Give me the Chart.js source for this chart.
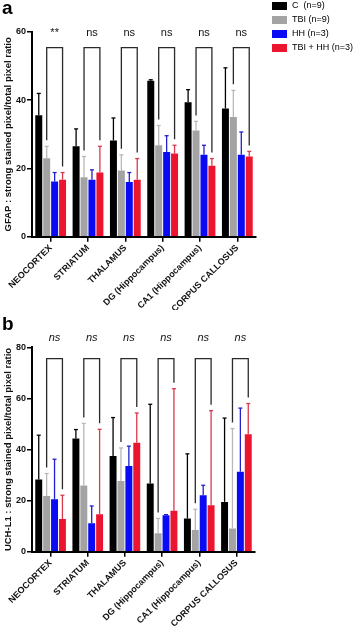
<!DOCTYPE html>
<html><head><meta charset="utf-8">
<script src="https://cdn.jsdelivr.net/npm/chart.js@4/dist/chart.umd.min.js"></script>
<style>
html,body{margin:0;padding:0;background:#fff;}
#wrap{position:relative;width:358px;height:627px;overflow:hidden;}
canvas{position:absolute;left:0;}
</style></head>
<body><div id="wrap">
<canvas id="ca" width="358" height="310" style="top:0"></canvas>
<canvas id="cb" width="358" height="317" style="top:310px"></canvas>
</div>
<script>
// ---- data ----
const categories = ['NEOCORTEX','STRIATUM','THALAMUS','DG (Hippocampus)','CA1 (Hippocampus)','CORPUS CALLOSUS'];
const seriesNames = ['C  (n=9)','TBI (n=9)','HH (n=3)','TBI + HH (n=3)'];

// Panel a: GFAP
const gfapC      = [35.6, 26.5, 28.2, 45.7, 39.4, 37.6];
const gfapCErr   = [6.4, 5.1, 6.6, 0.3, 3.7, 11.9];
const gfapTBI    = [23.0, 17.4, 19.4, 26.8, 31.1, 35.1];
const gfapTBIErr = [3.5, 6.1, 4.6, 5.8, 2.7, 7.8];
const gfapHH     = [16.2, 16.7, 16.0, 24.8, 24.0, 24.0];
const gfapHHErr  = [2.6, 2.9, 2.8, 4.8, 2.8, 6.7];
const gfapTH     = [16.7, 18.8, 16.7, 24.4, 20.8, 23.5];
const gfapTHErr  = [2.1, 7.7, 6.2, 2.4, 2.1, 1.5];
const gfapSig    = ['**','ns','ns','ns','ns','ns'];
const gfapTicks  = [0, 20, 40, 60];

// Panel b: UCH-L1
const uchC      = [28.3, 44.3, 37.5, 26.7, 13.0, 19.5];
const uchCErr   = [17.3, 3.5, 15.0, 31.0, 25.3, 32.8];
const uchTBI    = [21.8, 25.9, 27.7, 7.2, 8.5, 9.1];
const uchTBIErr = [8.8, 24.3, 12.9, 5.8, 8.1, 39.1];
const uchHH     = [20.5, 11.1, 33.5, 14.3, 22.1, 31.3];
const uchHHErr  = [15.7, 6.8, 7.8, 0.2, 3.9, 24.9];
const uchTH     = [12.8, 14.7, 42.6, 16.0, 18.2, 46.0];
const uchTHErr  = [9.3, 33.2, 11.7, 47.8, 37.0, 12.0];
const uchSig    = ['ns','ns','ns','ns','ns','ns'];
const uchTicks  = [0, 20, 40, 60, 80];

// ---- styles ----
const barColors = ['#000000','#a3a3a3','#0a0af5','#ec1530'];
const errColors = ['#000000','#b8b8b8','#2020d0','#d83a4c'];
const FONT = "'Liberation Sans', Arial, Helvetica, sans-serif";

function makeChart(id, cfg) {
  const ds = cfg.values.map((v, i) => ({
    label: seriesNames[i], data: v, backgroundColor: barColors[i], borderWidth: 0,
    categoryPercentage: 0.85, barPercentage: 0.88
  }));
  const errPlugin = {
    id: 'errbars',
    afterDatasetsDraw(chart) {
      const ctx = chart.ctx, y = chart.scales.y;
      ctx.save();
      cfg.errors.forEach((errs, di) => {
        const meta = chart.getDatasetMeta(di);
        meta.data.forEach((el, i) => {
          const top = y.getPixelForValue(cfg.values[di][i] + errs[i]);
          ctx.strokeStyle = errColors[di]; ctx.lineWidth = 1.3;
          ctx.beginPath(); ctx.moveTo(el.x, el.y); ctx.lineTo(el.x, top); ctx.stroke();
          ctx.beginPath(); ctx.moveTo(el.x - 2, top); ctx.lineTo(el.x + 2, top); ctx.stroke();
        });
      });
      ctx.restore();
    }
  };
  const bracketPlugin = {
    id: 'brackets',
    afterDraw(chart) {
      const ctx = chart.ctx, y = chart.scales.y;
      const mL = chart.getDatasetMeta(1), mR = chart.getDatasetMeta(3);
      const yTop = y.getPixelForValue(cfg.bracketAt);
      const yLab = y.getPixelForValue(cfg.labelAt);
      ctx.save();
      ctx.strokeStyle = '#2a2a2a'; ctx.lineWidth = 1.3;
      categories.forEach((c, i) => {
        const xL = mL.data[i].x, xR = mR.data[i].x;
        const yl = y.getPixelForValue(cfg.values[1][i] + cfg.errors[1][i]) - 6;
        const yr = y.getPixelForValue(cfg.values[3][i] + cfg.errors[3][i]) - 6;
        ctx.beginPath(); ctx.moveTo(xL, yl); ctx.lineTo(xL, yTop); ctx.lineTo(xR, yTop); ctx.lineTo(xR, yr); ctx.stroke();
        ctx.fillStyle = '#111';
        ctx.font = cfg.sigFont; ctx.textAlign = 'center'; ctx.textBaseline = 'middle';
        ctx.fillText(cfg.sig[i], (xL + xR) / 2, yLab);
      });
      // panel letter
      ctx.fillStyle = '#000'; ctx.font = 'bold 19px ' + FONT; ctx.textAlign = 'left'; ctx.textBaseline = 'alphabetic';
      ctx.fillText(cfg.letter, 2, cfg.letterY);
      if (cfg.legend) {
        ctx.font = '9px ' + FONT; ctx.textBaseline = 'middle';
        const rows = [6, 20, 34, 48];
        seriesNames.forEach((n, i) => {
          ctx.fillStyle = barColors[i]; ctx.fillRect(272, rows[i] - 4, 15, 8);
          ctx.fillStyle = '#000'; ctx.fillText(n, 292, rows[i]);
        });
      }
      ctx.restore();
    }
  };
  return new Chart(document.getElementById(id), {
    type: 'bar',
    data: { labels: categories, datasets: ds },
    plugins: [errPlugin, bracketPlugin],
    options: {
      responsive: false, animation: false,
      layout: { padding: { top: cfg.top, left: 0, right: cfg.right, bottom: 0 } },
      plugins: { legend: { display: false }, tooltip: { enabled: false } },
      scales: {
        x: {
          offset: true,
          grid: { drawOnChartArea: false, offset: false, tickLength: 5, color: '#000', lineWidth: 1.5 },
          border: { color: '#000', width: 2 },
          ticks: { font: { family: FONT, size: 9, weight: 'bold' }, color: '#111', maxRotation: 45, minRotation: 45, autoSkip: false, padding: 1 },
          afterFit: s => { s.height = cfg.xHeight; }
        },
        y: {
          min: 0, max: cfg.ticks[cfg.ticks.length - 1],
          afterBuildTicks: s => { s.ticks = cfg.ticks.map(v => ({ value: v })); },
          grid: { drawOnChartArea: false, tickLength: 5, color: '#000', lineWidth: 1.5 },
          border: { color: '#000', width: 2 },
          ticks: { font: { family: FONT, size: 9, weight: 'bold' }, color: '#111', padding: 1 },
          title: { display: true, text: cfg.title, color: '#111', font: { family: FONT, size: 9.5, weight: 'bold' }, padding: { top: 3, bottom: 0 } },
          afterFit: s => { s.width = 32; }
        }
      }
    }
  });
}

makeChart('ca', {
  values: [gfapC, gfapTBI, gfapHH, gfapTH], errors: [gfapCErr, gfapTBIErr, gfapHHErr, gfapTHErr],
  sig: gfapSig, ticks: gfapTicks, bracketAt: 55.4, labelAt: 59.6, sigFont: '11px ' + FONT,
  title: 'GFAP : strong stained pixel/total pixel ratio', letter: 'a', letterY: 14, legend: true,
  top: 32, right: 102, xHeight: 73.3
});
makeChart('cb', {
  values: [uchC, uchTBI, uchHH, uchTH], errors: [uchCErr, uchTBIErr, uchHHErr, uchTHErr],
  sig: uchSig, ticks: uchTicks, bracketAt: 75.6, labelAt: 83.6, sigFont: 'italic 11px ' + FONT,
  title: 'UCH-L1 : strong stained pixel/total pixel ratio', letter: 'b', letterY: 20, legend: false,
  top: 37.3, right: 103, xHeight: 75.3
});
</script>
</body></html>
